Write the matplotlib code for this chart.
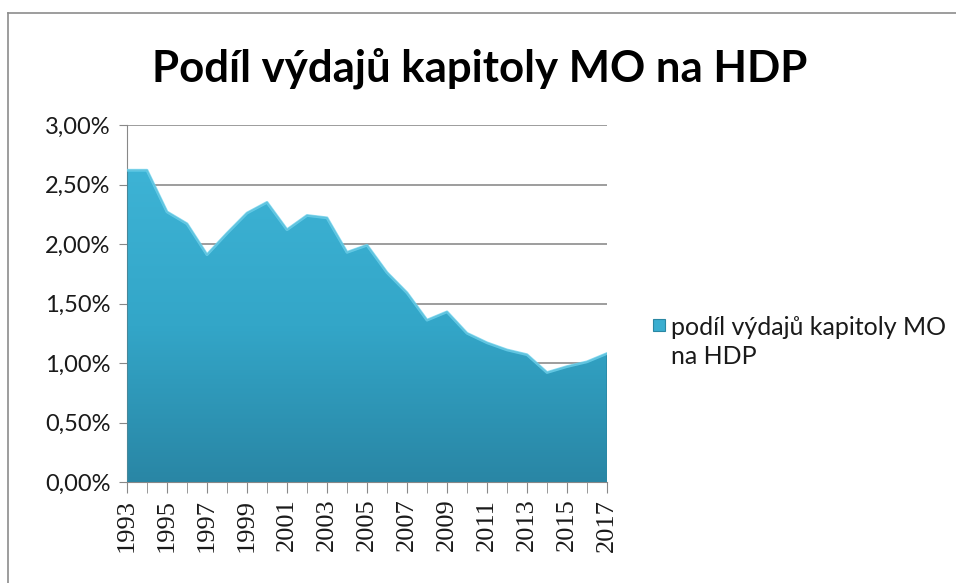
import numpy as np
import matplotlib.pyplot as plt
from matplotlib.colors import LinearSegmentedColormap
from matplotlib.lines import Line2D
from matplotlib.patches import Rectangle

# podil vydaju kapitoly MO na HDP (%), odhad z grafu
roky = list(range(1993, 2018))
podil = [2.62, 2.62, 2.27, 2.17, 1.91, 2.09, 2.26, 2.35, 2.12, 2.24,
         2.22, 1.93, 1.99, 1.76, 1.59, 1.36, 1.43, 1.25, 1.17, 1.11,
         1.07, 0.92, 0.97, 1.01, 1.08]
yticky = [0, 0.5, 1.0, 1.5, 2.0, 2.5, 3.0]
ytick_popisky = ["0,00%", "0,50%", "1,00%", "1,50%", "2,00%", "2,50%", "3,00%"]
nazev = "Podíl výdajů kapitoly MO na HDP"
legenda = "podíl výdajů kapitoly MO\nna HDP"

plt.rcParams["font.family"] = ["Lato", "DejaVu Sans"]

fig = plt.figure(figsize=(9.56, 5.83), dpi=100)
ax = fig.add_axes([127/956, 1-482/583, 480/956, 357/583])

# ramecek grafu (jen nahore a vlevo, zbytek oriznuty)
fig.add_artist(Line2D([8/956, 8/956], [0, 1-13/583], color="#8c8c8c", lw=1.2,
                      transform=fig.transFigure))
fig.add_artist(Line2D([8/956, 1], [1-13/583, 1-13/583], color="#8c8c8c", lw=1.2,
                      transform=fig.transFigure))

# plocha s prechodem barvy
poly = ax.fill_between(roky, podil, 0, facecolor="none", edgecolor="#2a87a3", lw=1.0, zorder=3)
cmap = LinearSegmentedColormap.from_list("modra", ["#2986a5", "#33a6c8", "#3db3d5"])
grad = np.linspace(0, 1, 256).reshape(-1, 1)
img = ax.imshow(grad, cmap=cmap, origin="lower", aspect="auto",
                extent=[roky[0], roky[-1], 0, max(podil)], zorder=2)
img.set_clip_path(poly.get_paths()[0], transform=ax.transData)
ax.plot(roky, podil, color="#6fd3ee", lw=2.0, zorder=4, alpha=0.8)

ax.set_xlim(roky[0], roky[-1])
ax.set_ylim(0, 3.0)
ax.set_yticks(yticky)
ax.set_yticklabels(ytick_popisky, fontsize=17, color="#1a1a1a")
ax.set_xticks(roky[::2])
ax.set_xticks(roky, minor=True)
ax.set_xticklabels([str(r) for r in roky[::2]], rotation=90, fontsize=19,
                   family="Liberation Serif", color="#1a1a1a")
ax.tick_params(axis="x", which="both", length=8, color="#888888", direction="out", pad=4)
ax.tick_params(axis="y", length=6, color="#888888", direction="out", pad=6)
ax.grid(axis="y", color="#8c8c8c", lw=1.2, zorder=1)
ax.set_axisbelow(True)
for s in ["top", "right"]:
    ax.spines[s].set_visible(False)
ax.spines["left"].set_color("#888888")
ax.spines["bottom"].set_color("#888888")

fig.text(480/956, 1-68/583, nazev, ha="center", va="center", fontsize=31.5, fontweight="bold")

# legenda
fig.add_artist(Rectangle((653/956, 1-331/583), 12/956, 12/583, transform=fig.transFigure,
                         facecolor="#3aaed0", edgecolor="#2a87a3", lw=0.8))
fig.text(671/956, 1-342/583, legenda, ha="left", va="center", fontsize=18,
         linespacing=1.35, color="#1a1a1a")

fig.savefig("out.png", dpi=100)
